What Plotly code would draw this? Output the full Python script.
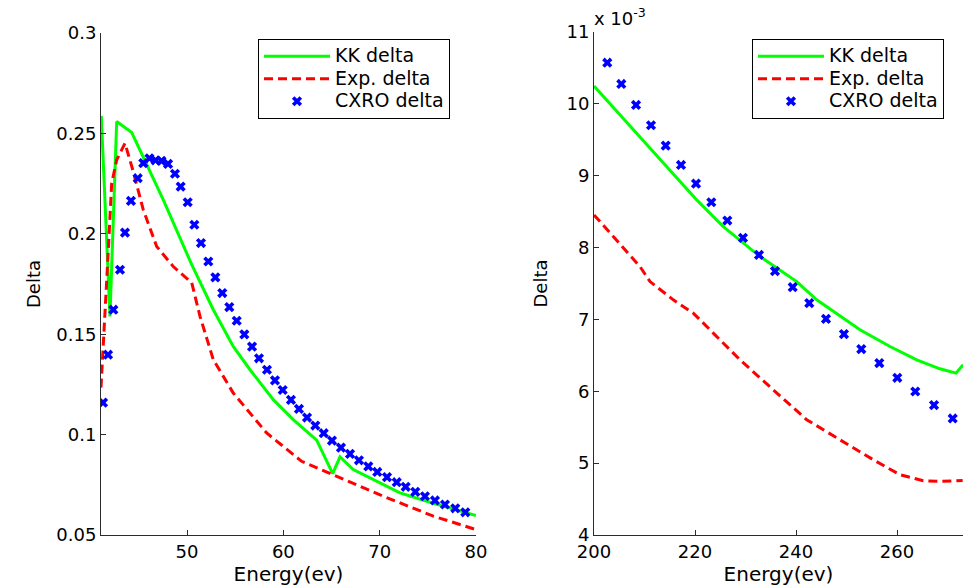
import plotly.graph_objects as go

# ---------------- Left panel data (energy in eV, delta) ----------------
left_cxro_e = [41.28, 41.80, 42.35, 43.04, 43.56, 44.18, 44.88, 45.46, 46.10, 46.73,
               47.35, 48.03, 48.75, 49.34, 50.07, 50.76, 51.45, 52.21, 52.94, 53.66,
               54.39, 55.16, 55.95, 56.75, 57.47, 58.30, 59.13, 59.93, 60.79, 61.62,
               62.46, 63.32, 64.19, 65.05, 65.98, 66.92, 67.85, 68.82, 69.75, 70.76,
               71.77, 72.70, 73.70, 74.70, 75.74, 76.78, 77.85, 78.89]
left_cxro_d = [0.1159, 0.1398, 0.1622, 0.1821, 0.2006, 0.2164, 0.2277, 0.2352, 0.2376, 0.2366,
               0.2363, 0.2348, 0.2299, 0.2235, 0.2157, 0.2045, 0.1954, 0.1862, 0.1783, 0.1705,
               0.1635, 0.1567, 0.1499, 0.1438, 0.1380, 0.1323, 0.1270, 0.1222, 0.1173, 0.1128,
               0.1085, 0.1045, 0.1007, 0.0970, 0.0935, 0.0904, 0.0872, 0.0842, 0.0814, 0.0788,
               0.0763, 0.0740, 0.0715, 0.0693, 0.0672, 0.0652, 0.0633, 0.0613]

left_kk_e = [41.1, 42.0, 42.7, 44.26, 47.54, 50.49, 52.73, 54.80, 56.54, 58.96,
             61.03, 63.46, 65.12, 65.88, 67.26, 69.69, 72.11, 74.88, 77.3, 80.0]
left_kk_d = [0.2587, 0.1589, 0.2559, 0.2504, 0.2169, 0.1846, 0.1622, 0.1439, 0.1323, 0.1174,
             0.1075, 0.0972, 0.0806, 0.0889, 0.0826, 0.0768, 0.0710, 0.0668, 0.0635, 0.0597]

left_exp_e = [41.07, 41.31, 41.83, 42.18, 42.7, 43.56, 44.42, 45.46, 46.85, 48.57,
              50.49, 51.35, 52.73, 54.8, 58.27, 61.9, 65.19, 70.38, 75.57, 80.0]
left_exp_d = [0.1234, 0.1439, 0.192, 0.2252, 0.2368, 0.2451, 0.231, 0.2119, 0.1937, 0.1837,
              0.1756, 0.1589, 0.1373, 0.1207, 0.1008, 0.0867, 0.0801, 0.0693, 0.0594, 0.0527]

left_xticks = [50, 60, 70, 80]
left_yticks = [0.05, 0.1, 0.15, 0.2, 0.25, 0.3]
left_yticklabels = ["0.05", "0.1", "0.15", "0.2", "0.25", "0.3"]

# ---------------- Right panel data (energy in eV, delta x 1e-3) ----------------
right_cxro_e = [202.63, 205.41, 208.32, 211.29, 214.2, 217.23, 220.2, 223.23, 226.4, 229.5,
                232.67, 235.84, 239.35, 242.63, 245.94, 249.5, 252.93, 256.5, 260.06, 263.62,
                267.33, 271.03]
right_cxro_d_e3 = [10.573, 10.277, 9.985, 9.702, 9.419, 9.150, 8.890, 8.631, 8.376, 8.135,
                   7.898, 7.672, 7.449, 7.227, 7.008, 6.796, 6.587, 6.392, 6.188, 5.997,
                   5.808, 5.622]

right_kk_e = [200, 208.46, 215.7, 220.34, 225.6, 232.87, 240.14, 244.1, 252.67, 258.61,
              263.9, 268.5, 271.68, 273.1]
right_kk_d_e3 = [10.249, 9.591, 9.035, 8.663, 8.292, 7.875, 7.527, 7.273, 6.855, 6.623,
                 6.438, 6.313, 6.253, 6.369]

right_exp_e = [200, 204.5, 209.1, 211.09, 215.7, 219.66, 223.62, 228.91, 235.5, 242.12,
               248.71, 255.31, 260.59, 265.2, 268.5, 273.0]
right_exp_d_e3 = [8.455, 8.107, 7.736, 7.527, 7.273, 7.088, 6.81, 6.438, 6.021, 5.604,
                  5.325, 5.047, 4.839, 4.755, 4.746, 4.76]

right_xticks = [200, 220, 240, 260]
right_yticks = [4, 5, 6, 7, 8, 9, 10, 11]

names = ["KK delta", "Exp. delta", "CXRO delta"]

# ---------------- Styles ----------------
FONT = "DejaVu Sans, Liberation Sans, Arial, sans-serif"
GREEN = "#00FF00"
RED = "#FF0000"
BLUE = "#0000FF"
W, H = 963, 586
LEG_TEXT = 19   # size of legend label glyphs
LEG_ROW = 15    # legend font size that sets the row pitch

fig = go.Figure()

def lab(n):
    return f"<span style='font-size:{LEG_TEXT}px'>{n}</span>"

def add_panel(xa, ya, legend, ke, kd, ee, ed, ce, cd):
    fig.add_trace(go.Scatter(x=ke, y=kd, mode="lines", name=lab(names[0]),
                             line=dict(color=GREEN, width=3),
                             xaxis=xa, yaxis=ya, legend=legend))
    fig.add_trace(go.Scatter(x=ee, y=ed, mode="lines", name=lab(names[1]),
                             line=dict(color=RED, width=3, dash="9px,5px"),
                             xaxis=xa, yaxis=ya, legend=legend))
    fig.add_trace(go.Scatter(x=ce, y=cd, mode="markers", name=lab(names[2]),
                             marker=dict(color=BLUE, symbol="x", size=9,
                                         line=dict(width=0)),
                             xaxis=xa, yaxis=ya, legend=legend))

add_panel("x", "y", "legend", left_kk_e, left_kk_d, left_exp_e, left_exp_d,
          left_cxro_e, left_cxro_d)
add_panel("x2", "y2", "legend2", right_kk_e, right_kk_d_e3, right_exp_e, right_exp_d_e3,
          right_cxro_e, right_cxro_d_e3)

def px_x(p):
    return p / W

def px_y(p):
    return (H - p) / H

axis_common = dict(showgrid=False, zeroline=False, showline=True, linecolor="#2b2b2b",
                   linewidth=1, ticks="inside", ticklen=5, tickcolor="#2b2b2b",
                   tickfont=dict(family=FONT, size=18, color="black"), mirror=False,
                   automargin=False)

legend_common = dict(bgcolor="white", bordercolor="black", borderwidth=1,
                     font=dict(family=FONT, size=LEG_ROW, color="black"),
                     xanchor="left", yanchor="top", itemwidth=66,
                     tracegroupgap=0)

fig.update_layout(
    width=W, height=H,
    margin=dict(l=0, r=0, t=0, b=0, autoexpand=False),
    paper_bgcolor="white", plot_bgcolor="white",
    font=dict(family=FONT, color="black"),
    xaxis=dict(domain=[px_x(101), px_x(476)], range=[41.07, 80], anchor="y",
               tickvals=left_xticks,
               title=dict(text="Energy(ev)", font=dict(family=FONT, size=20), standoff=2),
               **axis_common),
    yaxis=dict(domain=[px_y(535), px_y(33)], range=[0.05, 0.3], anchor="x",
               tickvals=left_yticks, ticktext=left_yticklabels,
               title=dict(text="Delta", font=dict(family=FONT, size=18), standoff=11),
               **axis_common),
    xaxis2=dict(domain=[px_x(594), 1.0], range=[200, 273.07], anchor="y2",
                tickvals=right_xticks,
                title=dict(text="Energy(ev)", font=dict(family=FONT, size=20), standoff=2),
                **axis_common),
    yaxis2=dict(domain=[px_y(535), px_y(32)], range=[4, 11], anchor="x2",
                tickvals=right_yticks,
                title=dict(text="Delta", font=dict(family=FONT, size=18), standoff=14),
                **axis_common),
    legend=dict(x=px_x(258), y=px_y(39), **legend_common),
    legend2=dict(x=px_x(752), y=px_y(39), **legend_common),
    annotations=[dict(text="x 10<sup>-3</sup>", xref="paper", yref="paper",
                      x=px_x(592), y=px_y(31), xanchor="left", yanchor="bottom",
                      showarrow=False, font=dict(family=FONT, size=18, color="black"))],
)

# remove the page's default 8px body margin so the figure fills the window exactly
fig.write_html("out.html",
               config={"displayModeBar": False},
               post_script="document.body.style.margin='0';"
                           "document.body.style.overflow='hidden';")
